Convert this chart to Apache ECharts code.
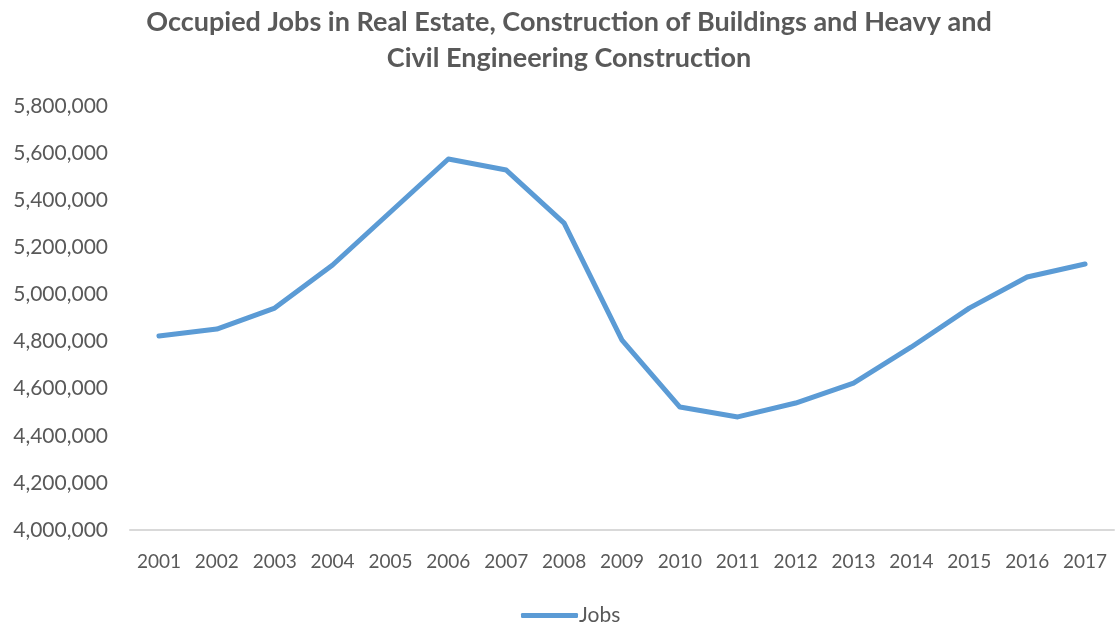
<!DOCTYPE html>
<html>
<head>
<meta charset="utf-8">
<script src="https://cdn.jsdelivr.net/npm/echarts@6/dist/echarts.min.js"></script>
<style>
  html, body { margin: 0; padding: 0; background: #fff; }
  #chart { width: 1117px; height: 626px; }
</style>
</head>
<body>
<div id="chart"></div>
<script>
// data
const years = ['2001', '2002', '2003', '2004', '2005', '2006', '2007', '2008', '2009',
  '2010', '2011', '2012', '2013', '2014', '2015', '2016', '2017']
const jobs = [4824000, 4853000, 4942000, 5125000, 5350000, 5575000, 5528000, 5303000, 4806000,
  4522000, 4480000, 4539000, 4624000, 4777000, 4942000, 5074000, 5129000]
const yMin = 4000000
const yMax = 5800000
const yStep = 200000

const titleText = 'Occupied Jobs in Real Estate, Construction of Buildings and Heavy and\nCivil Engineering Construction'
const grey = '#595959'

let myChart = echarts.init(document.getElementById('chart'))
myChart.setOption({
  animation: false,
  title: {
    text: titleText,
    left: 569,
    textAlign: 'center',
    top: 4,
    padding: 0,
    textStyle: {
      color: grey,
      fontFamily: 'Lato',
      fontWeight: 'bold',
      fontSize: 27,
      lineHeight: 36
    }
  },
  legend: {
    data: ['Jobs'],
    bottom: 0,
    left: 521,
    padding: 0,
    icon: 'roundRect',
    itemWidth: 57,
    itemHeight: 5,
    textStyle: {
      color: grey,
      fontFamily: 'Lato',
      fontSize: 21,
      padding: [0, 0, 0, -4]
    }
  },
  grid: {
    left: 130,
    right: 3,
    top: 106,
    bottom: 96,
    containLabel: false
  },
  xAxis: {
    type: 'category',
    data: years,
    boundaryGap: true,
    axisTick: { show: false },
    axisLine: { lineStyle: { color: '#d9d9d9', width: 2 } },
    axisLabel: {
      color: grey,
      fontFamily: 'Lato',
      fontSize: 19,
      margin: 22
    }
  },
  yAxis: {
    type: 'value',
    min: yMin,
    max: yMax,
    interval: yStep,
    splitLine: { show: false },
    axisLine: { show: false },
    axisTick: { show: false },
    axisLabel: {
      color: grey,
      fontFamily: 'Lato',
      fontSize: 21,
      margin: 22,
      formatter: function (v) { return v.toLocaleString('en-US') }
    }
  },
  series: [
    {
      name: 'Jobs',
      type: 'line',
      data: jobs,
      symbol: 'none',
      lineStyle: { color: '#5b9bd5', width: 5, cap: 'round', join: 'round' },
      itemStyle: { color: '#5b9bd5' }
    }
  ]
})
</script>
</body>
</html>
